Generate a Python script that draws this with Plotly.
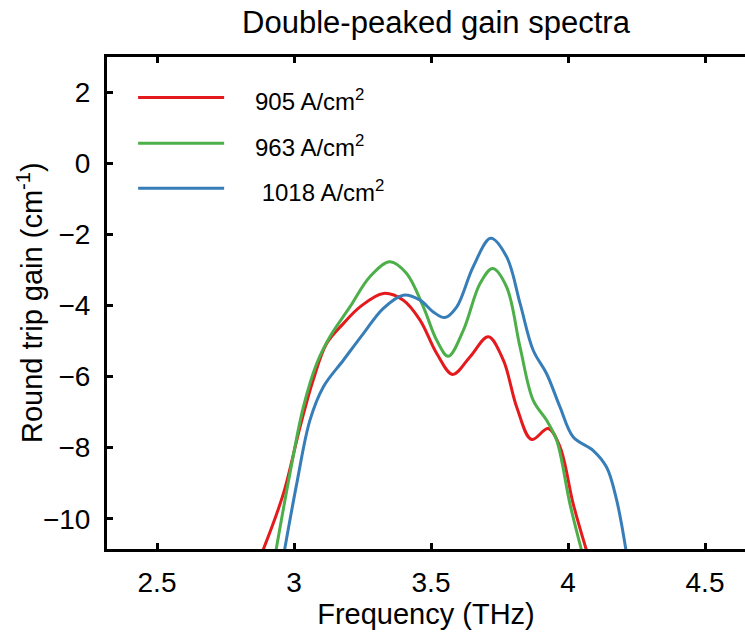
import plotly.graph_objects as go

# Frequency (THz) / round trip gain (cm^-1)
freq_905 = [2.886, 2.961, 3.022, 3.070, 3.119, 3.180, 3.241, 3.326, 3.399, 3.460, 3.521,
            3.579, 3.642, 3.709, 3.764, 3.813, 3.867, 3.928, 3.971, 4.019, 4.068]
gain_905 = [-10.9, -9.30, -7.42, -6.10, -5.07, -4.51, -4.04, -3.66, -3.85, -4.41, -5.35,
            -5.94, -5.45, -4.88, -5.54, -6.86, -7.77, -7.46, -7.98, -9.58, -10.9]

freq_963 = [2.934, 2.985, 3.034, 3.083, 3.131, 3.204, 3.277, 3.350, 3.411, 3.472, 3.521,
            3.563, 3.618, 3.679, 3.725, 3.776, 3.825, 3.873, 3.922, 3.959, 4.007, 4.050]
gain_963 = [-10.9, -8.73, -6.86, -5.63, -4.88, -4.04, -3.19, -2.77, -3.10, -4.04, -4.98,
            -5.43, -4.70, -3.38, -2.96, -3.48, -5.17, -6.67, -7.23, -7.80, -9.58, -10.9]

freq_1018 = [2.965, 3.010, 3.058, 3.107, 3.180, 3.253, 3.326, 3.399, 3.460, 3.508, 3.551,
             3.594, 3.654, 3.718, 3.776, 3.825, 3.873, 3.922, 3.971, 4.019, 4.092, 4.141,
             4.178, 4.212]
gain_1018 = [-10.9, -9.01, -7.23, -6.29, -5.54, -4.79, -4.08, -3.71, -3.85, -4.18, -4.34,
             -4.04, -2.91, -2.11, -2.63, -3.94, -5.26, -5.92, -6.86, -7.70, -8.08, -8.55,
             -9.49, -10.9]

series_names = ["905 A/cm<sup>2</sup>", "963 A/cm<sup>2</sup>", " 1018 A/cm<sup>2</sup>"]
series_colors = ["#e41a1c", "#4daf4a", "#377eb8"]
x_ticks = [2.5, 3, 3.5, 4, 4.5]
x_tick_labels = ["2.5", "3", "3.5", "4", "4.5"]
y_ticks = [-10, -8, -6, -4, -2, 0, 2]
y_tick_labels = ["\u221210", "\u22128", "\u22126", "\u22124", "\u22122", "0", "2"]

FONT = "Liberation Sans, Arial, Helvetica, sans-serif"

fig = go.Figure()
for xs, ys, name, col in zip([freq_905, freq_963, freq_1018],
                             [gain_905, gain_963, gain_1018],
                             series_names, series_colors):
    fig.add_trace(go.Scatter(x=xs, y=ys, mode="lines", name=name,
                             line=dict(color=col, width=3, shape="spline", smoothing=1.0),
                             showlegend=False))

# manual legend (long line samples)
leg_y = [1.85, 0.563, -0.704]
for i, (name, col) in enumerate(zip(series_names, series_colors)):
    fig.add_shape(type="line", xref="x", yref="y", x0=2.431, x1=2.745,
                  y0=leg_y[i], y1=leg_y[i], line=dict(color=col, width=3))
    fig.add_annotation(xref="x", yref="y", x=2.852, y=leg_y[i] - 0.08, text=name,
                       showarrow=False, xanchor="left", yanchor="middle",
                       font=dict(family=FONT, size=24, color="black"))

# y-axis title as a rotated annotation for precise placement
fig.add_annotation(xref="paper", yref="paper", x=(30 - 107) / 638, y=0.5,
                   text="Round trip gain (cm<sup>-1</sup>)", textangle=-90, showarrow=False,
                   xanchor="center", yanchor="middle",
                   font=dict(family=FONT, size=29, color="black"))

axis_common = dict(showgrid=False, zeroline=False, linecolor="black",
                   linewidth=3, ticks="inside", ticklen=6, tickwidth=2.5,
                   tickcolor="black", tickfont=dict(family=FONT, size=28, color="black"))

fig.update_layout(
    width=745, height=633,
    margin=dict(l=107, r=0, t=57, b=84),
    paper_bgcolor="white", plot_bgcolor="white",
    font=dict(family=FONT, color="black"),
    title=dict(text="Double-peaked gain spectra", x=436 / 745, xanchor="center",
               y=1 - 22 / 633, yanchor="middle", yref="container",
               font=dict(family=FONT, size=31, color="black")),
    xaxis=dict(range=[2.3175, 4.646], tickvals=x_ticks, ticktext=x_tick_labels,
               showline=True, mirror="ticks", ticklabelstandoff=6,
               title=dict(text="Frequency (THz)", font=dict(family=FONT, size=29), standoff=4),
               **axis_common),
    yaxis=dict(range=[-10.85, 2.99], tickvals=y_ticks, ticktext=y_tick_labels,
               showline=True, ticklabelstandoff=8,
               **axis_common),
    yaxis2=dict(range=[-10.85, 2.99], tickvals=y_ticks, overlaying="y", side="right",
                showline=False, showticklabels=False, showgrid=False, zeroline=False,
                ticks="inside", ticklen=6, tickwidth=2.5, tickcolor="black"),
)

fig.write_html("out.html")
